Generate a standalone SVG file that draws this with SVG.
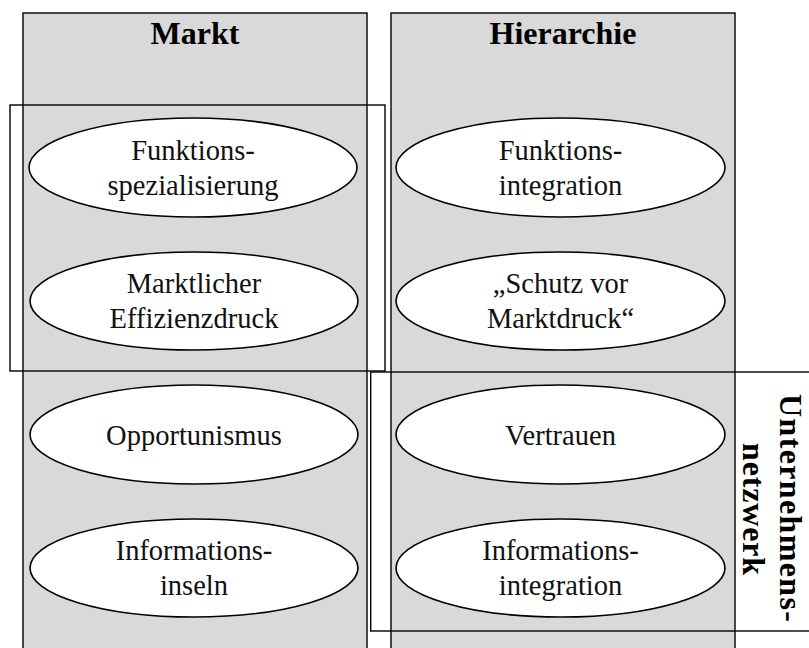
<svg xmlns="http://www.w3.org/2000/svg" width="809" height="648" viewBox="0 0 809 648">
  <style>
    .col { fill: #d9d9d9; stroke: #000; stroke-width: 1.4; }
    .frame { fill: none; stroke: #000; stroke-width: 1.4; }
    .node ellipse { fill: #fff; stroke: #000; stroke-width: 1.6; }
    .lbl { font-family: "Liberation Serif", "DejaVu Serif", serif; font-size: 28.5px; fill: #111; text-anchor: middle; }
    .head { font-family: "Liberation Serif", "DejaVu Serif", serif; font-size: 32px; font-weight: bold; fill: #000; text-anchor: middle; }
  </style>
  <rect width="809" height="648" fill="#fff"/>

  <!-- columns -->
  <g id="col-markt">
    <rect class="col" x="23" y="13" width="344" height="660"/>
    <text class="head" x="195" y="44">Markt</text>
  </g>
  <g id="col-hierarchie">
    <rect class="col" x="391" y="13" width="344" height="660"/>
    <text class="head" x="563" y="44">Hierarchie</text>
  </g>

  <!-- grouping frames -->
  <g id="connectors">
    <rect class="frame" x="10" y="105" width="375" height="266"/>
    <rect class="frame" x="370.7" y="372" width="460" height="259"/>
  </g>

  <g id="netzwerk-label">
    <text class="head" transform="translate(780 508) rotate(90)" x="0" y="0" textLength="228" lengthAdjust="spacing">Unternehmens-</text>
    <text class="head" transform="translate(743 509) rotate(90)" x="0" y="0" textLength="132" lengthAdjust="spacing">netzwerk</text>
  </g>

  <!-- Markt nodes -->
  <g id="n-funktionsspezialisierung" class="node">
    <ellipse cx="193" cy="167.5" rx="164" ry="49.5"/>
    <text class="lbl" x="193" y="160">Funktions-</text>
    <text class="lbl" x="193" y="195">spezialisierung</text>
  </g>
  <g id="n-effizienzdruck" class="node">
    <ellipse cx="194" cy="301" rx="164" ry="49"/>
    <text class="lbl" x="194" y="293">Marktlicher</text>
    <text class="lbl" x="194" y="328">Effizienzdruck</text>
  </g>
  <g id="n-opportunismus" class="node">
    <ellipse cx="194" cy="434.5" rx="164" ry="49.5"/>
    <text class="lbl" x="194" y="445">Opportunismus</text>
  </g>
  <g id="n-informationsinseln" class="node">
    <ellipse cx="194" cy="568" rx="164" ry="49"/>
    <text class="lbl" x="194" y="560">Informations-</text>
    <text class="lbl" x="194" y="595">inseln</text>
  </g>

  <!-- Hierarchie nodes -->
  <g id="n-funktionsintegration" class="node">
    <ellipse cx="560.5" cy="167.5" rx="164.5" ry="49.5"/>
    <text class="lbl" x="560.5" y="160">Funktions-</text>
    <text class="lbl" x="560.5" y="195">integration</text>
  </g>
  <g id="n-schutz" class="node">
    <ellipse cx="560.5" cy="301" rx="164.5" ry="49"/>
    <text class="lbl" x="560.5" y="293">„Schutz vor</text>
    <text class="lbl" x="560.5" y="328">Marktdruck“</text>
  </g>
  <g id="n-vertrauen" class="node">
    <ellipse cx="560.5" cy="434.5" rx="164.5" ry="49.5"/>
    <text class="lbl" x="560.5" y="445">Vertrauen</text>
  </g>
  <g id="n-informationsintegration" class="node">
    <ellipse cx="560.5" cy="568" rx="164.5" ry="49"/>
    <text class="lbl" x="560.5" y="560">Informations-</text>
    <text class="lbl" x="560.5" y="595">integration</text>
  </g>
</svg>
